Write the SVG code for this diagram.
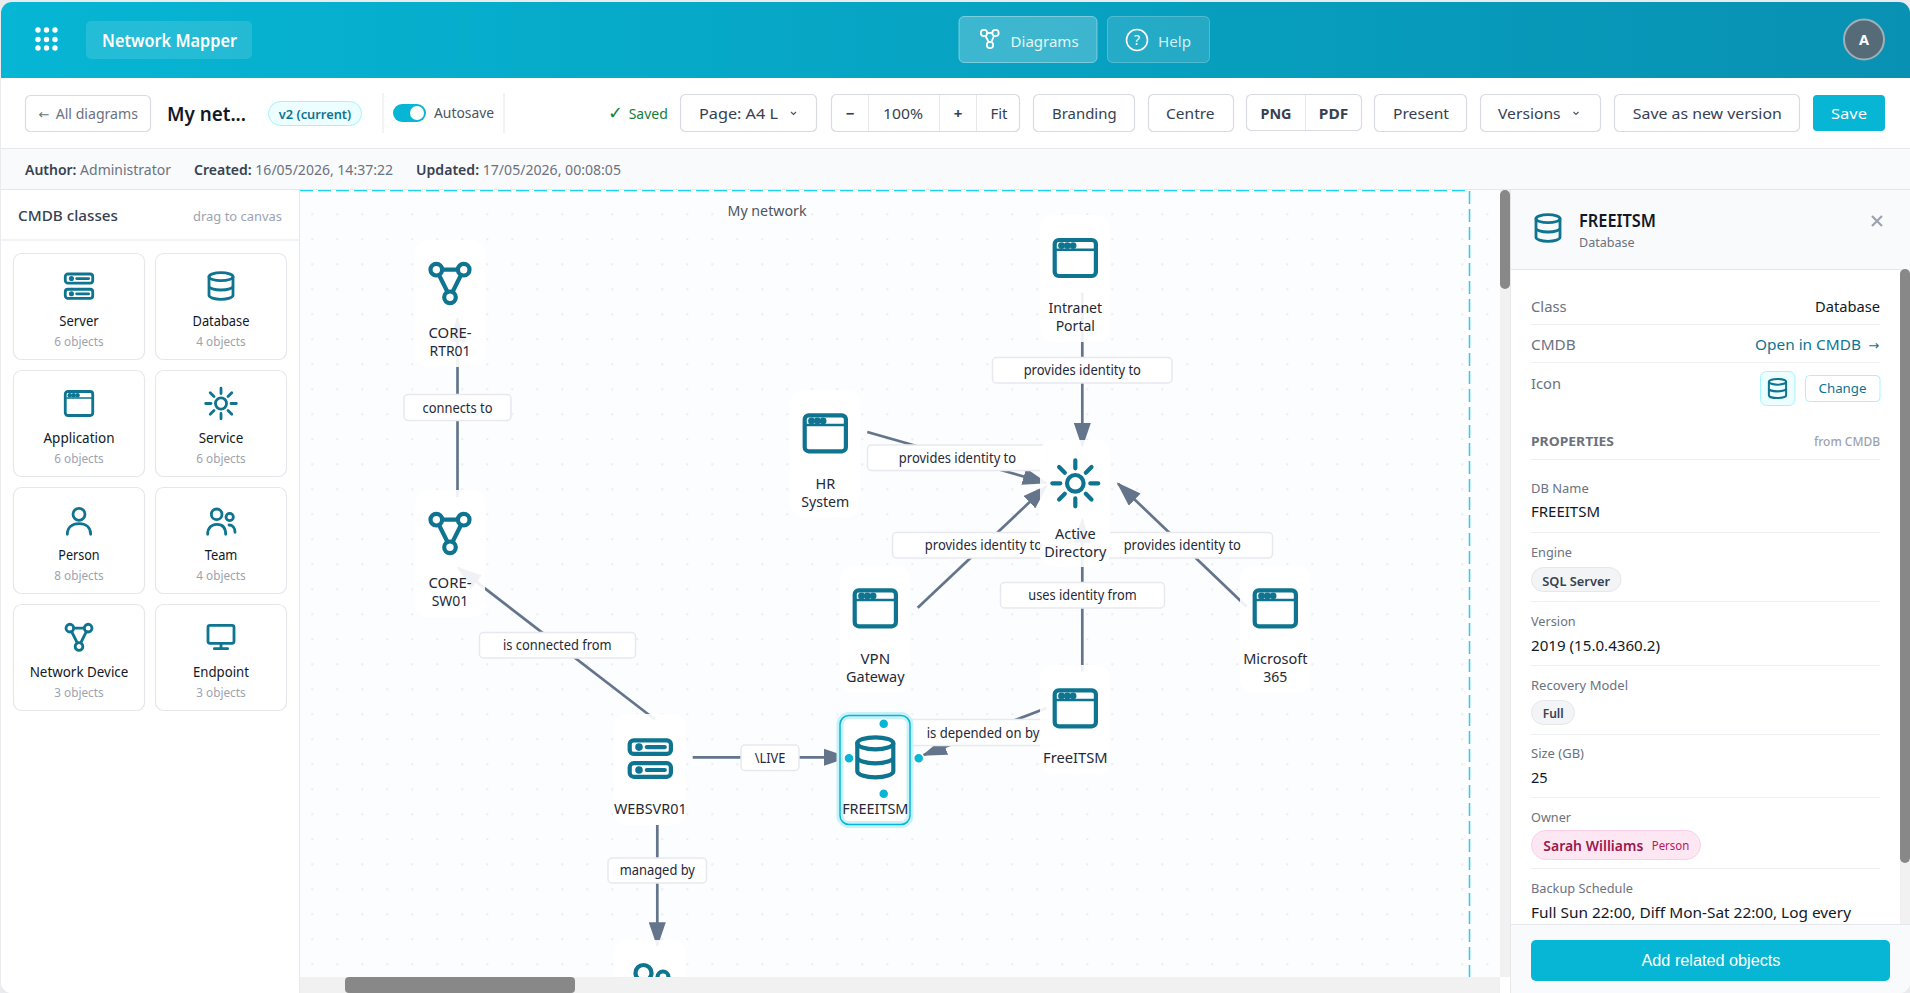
<svg xmlns="http://www.w3.org/2000/svg" width="1910" height="993" viewBox="0 0 1910 993">
<style>
text{font-family:"Noto Sans","Open Sans",sans-serif;fill:#374151;font-size:14px}
.m{text-anchor:middle}.e{text-anchor:end}
.btn{fill:#fff;stroke:#d9dbe3;stroke-width:1.2}
.bt{font-size:15px;text-anchor:middle;fill:#374151}
.meta{font-size:14px;fill:#6b7280}.metab{font-size:14px;font-weight:600;fill:#374151}
.card{fill:#fff;stroke:#e5e7eb;stroke-width:1.2}
.cl{font-size:13.5px;fill:#111827;text-anchor:middle}
.cs{font-size:12.5px;fill:#9ca3af;text-anchor:middle}
.ic{fill:none;stroke:#0e7490;stroke-width:4.2;stroke-linecap:round;stroke-linejoin:round}
.nb{fill:#fff;fill-opacity:.9}
.nl{font-size:14.5px;fill:#1f2937;text-anchor:middle}
.edge{stroke:#64748b;stroke-width:2.7;fill:none;marker-end:url(#ah)}
.lb{fill:#fff;stroke:#e8e9ef;stroke-width:1.5}
.lt{font-size:13.5px;fill:#1f2937;text-anchor:middle}
.pk{font-size:13px;fill:#6b7280}.pv{font-size:15px;fill:#111827}
.dv{stroke:#eef0f3;stroke-width:1.2}
.pill{fill:#f3f4f6;stroke:#e5e7eb}
.pt{font-size:13px;font-weight:600;fill:#374151}
.anch{fill:#06b6d4;stroke:#fff;stroke-width:1.5}
.ar{font-family:"DejaVu Sans",sans-serif;font-size:13px}
</style>
<defs>
<linearGradient id="hg" x1="0" y1="0" x2="1" y2="0"><stop offset="0" stop-color="#06b6d4"/><stop offset="1" stop-color="#0891b2"/></linearGradient>
<pattern id="grid" width="25" height="25" patternUnits="userSpaceOnUse" x="0.3" y="2.3"><path d="M12 11V13M11 12H13" stroke="#e4e6ec" stroke-width="1"/></pattern>
<marker id="ah" markerUnits="userSpaceOnUse" markerWidth="25" markerHeight="17" viewBox="0 0 25 17" refX="23" refY="8.5" orient="auto"><polygon points="0,0 25,8.5 0,17" fill="#64748b"/></marker>
<clipPath id="cv"><rect x="300" y="190" width="1200" height="787"/></clipPath>
<clipPath id="app"><rect x="1" y="2" width="1909" height="991" rx="11"/></clipPath>
<symbol id="i-app" viewBox="0 0 48 48" overflow="visible"><rect class="ic" x="3.4" y="6" width="41.2" height="36" rx="4"/><path class="ic" style="stroke-width:2.4" d="M3.4 15.7H44.6"/><g fill="#0e7490"><circle cx="10.2" cy="11.6" r="3.4"/><circle cx="16" cy="11.6" r="3.4"/><circle cx="21.8" cy="11.6" r="3.4"/></g></symbol>
<symbol id="i-net" viewBox="0 0 48 48" overflow="visible"><circle class="ic" cx="10.3" cy="10.7" r="5.8"/><circle class="ic" cx="37.7" cy="10.7" r="5.8"/><circle class="ic" cx="24" cy="38.3" r="5.8"/><path class="ic" d="M16.3 10.7H31.7M13 16L21.5 33M35 16L26.5 33"/></symbol>
<symbol id="i-srv" viewBox="0 0 48 48" overflow="visible"><rect class="ic" x="3.4" y="6" width="41.2" height="13.6" rx="4"/><rect class="ic" x="3.4" y="28.900" width="41.2" height="13.6" rx="4"/><circle cx="12.7" cy="12.8" r="3.8" fill="#0e7490"/><circle cx="12.7" cy="35.7" r="3.8" fill="#0e7490"/><path class="ic" d="M20.5 12.8H38.5M20.5 35.7H38.5"/></symbol>
<symbol id="i-db" viewBox="0 0 48 48" overflow="visible"><ellipse class="ic" cx="24" cy="10" rx="18" ry="6"/><path class="ic" d="M6 10V38c0 3.3 8 6 18 6s18-2.7 18-6V10M6 24c0 3.3 8 6 18 6s18-2.7 18-6"/></symbol>
<symbol id="i-sun" viewBox="0 0 48 48" overflow="visible"><circle class="ic" cx="24" cy="24" r="8.3"/><path class="ic" d="M24 1V9M24 39V47M1 24H9M39 24H47M7.8 7.8L13.5 13.5M34.5 34.5L40.2 40.2M40.2 7.8L34.5 13.5M13.500 34.5L7.8 40.2"/></symbol>
<symbol id="i-per" viewBox="0 0 48 48" overflow="visible"><circle class="ic" cx="24" cy="14" r="9"/><path class="ic" d="M6.5 44C6.5 33 14 28 24 28S41.5 33 41.5 44"/></symbol>
<symbol id="i-team" viewBox="0 0 48 48" overflow="visible"><circle class="ic" cx="17.5" cy="14" r="8"/><circle class="ic" cx="37" cy="18" r="5.5"/><path class="ic" d="M4 44C4 34 10 29 18 29S31 34 31 44M36 30C41 30 45 34 45 41"/></symbol>
<symbol id="i-mon" viewBox="0 0 48 48" overflow="visible"><rect class="ic" x="4.5" y="6.5" width="39" height="27" rx="3"/><path class="ic" d="M24 33.5V41M14 41.5H34"/></symbol>
</defs>
<rect width="1910" height="993" fill="#e9ebef"/>
<g clip-path="url(#app)">
<rect width="1910" height="993" fill="#fff"/>
<g id="topbar">
<rect y="0" width="1910" height="78" fill="url(#hg)"/>
<g fill="#fff"><circle cx="38" cy="30" r="2.7"/><circle cx="46.500" cy="30" r="2.7"/><circle cx="55" cy="30" r="2.7"/><circle cx="38" cy="39.500" r="2.7"/><circle cx="46.500" cy="39.500" r="2.7"/><circle cx="55" cy="39.500" r="2.7"/><circle cx="38" cy="48" r="2.7"/><circle cx="46.500" cy="48" r="2.7"/><circle cx="55" cy="48" r="2.7"/></g>
<rect x="86" y="21" width="166" height="38" rx="5" fill="#fff" fill-opacity=".12"/>
<text x="169.500" y="47" class="m" textLength="135" lengthAdjust="spacingAndGlyphs" style="font-size:17px;font-weight:600;fill:#fff">Network Mapper</text>
<rect x="959" y="16.500" width="138" height="46" rx="5" fill="#fff" fill-opacity=".22" stroke="#fff" stroke-opacity=".4"/>
<g fill="none" stroke="#fff" stroke-width="1.8"><circle cx="984" cy="33" r="3.2"/><circle cx="995.500" cy="33" r="3.2"/><circle cx="990" cy="45" r="3.2"/><path d="M987 33H992.500M985.500 36L988.700 42M994 36L991.300 42"/></g>
<text x="1044.600" y="47" class="m" textLength="68" lengthAdjust="spacingAndGlyphs" style="font-size:15px;fill:#e6f8fb">Diagrams</text>
<rect x="1107.500" y="16.500" width="102" height="46" rx="5" fill="#fff" fill-opacity=".12" stroke="#fff" stroke-opacity=".25"/>
<circle cx="1137" cy="40" r="10.500" fill="none" stroke="#fff" stroke-width="1.6"/>
<text x="1137" y="45" class="m" style="font-size:14px;fill:#fff">?</text>
<text x="1174.500" y="47" class="m" textLength="33" lengthAdjust="spacingAndGlyphs" style="font-size:15px;fill:#cfeff5">Help</text>
<circle cx="1864" cy="39.500" r="20" fill="#566b78" stroke="#9fb0b8" stroke-width="2"/>
<text x="1864" y="45" class="m" style="font-size:14.500px;font-weight:700;fill:#fff">A</text>
</g>
<g id="toolbar">
<rect x="25.500" y="95.500" width="125" height="36" rx="5" class="btn"/>
<text y="119" style="font-size:14px;fill:#6b7280"><tspan x="38.500" class="ar">←</tspan><tspan x="52" textLength="86" lengthAdjust="spacingAndGlyphs"> All diagrams</tspan></text>
<text x="167" y="121" textLength="79" lengthAdjust="spacingAndGlyphs" style="font-size:19px;font-weight:600;fill:#111827">My net...</text>
<rect x="268.500" y="101.500" width="93" height="24" rx="12" fill="#ecfeff" stroke="#a5f3fc"/>
<text x="315" y="118.500" class="m" textLength="72.500" lengthAdjust="spacingAndGlyphs" style="font-size:13px;font-weight:600;fill:#0e7490">v2 (current)</text>
<path d="M383 93V133M504 93V133" stroke="#e5e7eb"/>
<rect x="393" y="104" width="33" height="18" rx="9" fill="#06b6d4"/><circle cx="417" cy="113" r="7" fill="#fff"/>
<text x="434" y="118" textLength="60" lengthAdjust="spacingAndGlyphs" style="font-size:14px;fill:#4b5563">Autosave</text>
<text y="119" style="font-size:14px;fill:#15803d"><tspan x="608" style="font-size:18px">✓</tspan><tspan x="625"> Saved</tspan></text>
<rect x="680.500" y="94.500" width="136" height="37" rx="5" class="btn"/>
<text x="738.500" y="119" class="bt" textLength="79" lengthAdjust="spacingAndGlyphs">Page: A4 L</text>
<path d="M791 112l2.500 2.500l2.500-2.500" fill="none" stroke="#4b5563" stroke-width="1.2"/>
<rect x="831.500" y="94.500" width="188" height="37" rx="5" class="btn"/>
<path d="M868.500 95V131M939.500 95V131M976.500 95V131" stroke="#e5e7eb"/>
<text x="850" y="119" class="bt" style="font-weight:700">−</text>
<text x="903" y="119" class="bt" textLength="40" lengthAdjust="spacingAndGlyphs">100%</text>
<text x="958" y="119" class="bt" style="font-weight:700">+</text>
<text x="999" y="119" class="bt">Fit</text>
<rect x="1033.500" y="94.500" width="101" height="37" rx="5" class="btn"/>
<text x="1084.300" y="119" class="bt" textLength="64.500" lengthAdjust="spacingAndGlyphs">Branding</text>
<rect x="1148.500" y="94.500" width="85" height="37" rx="5" class="btn"/>
<text x="1190.300" y="119" class="bt" textLength="48.500" lengthAdjust="spacingAndGlyphs">Centre</text>
<rect x="1246.500" y="94.500" width="115" height="36" rx="5" class="btn"/>
<path d="M1305.500 95V130" stroke="#e5e7eb"/>
<text x="1276" y="118.500" class="m" textLength="31" lengthAdjust="spacingAndGlyphs" style="font-size:14px;font-weight:700;fill:#374151">PNG</text>
<text x="1333.500" y="118.500" class="m" textLength="29.500" lengthAdjust="spacingAndGlyphs" style="font-size:14px;font-weight:700;fill:#374151">PDF</text>
<rect x="1374.500" y="94.500" width="92" height="37" rx="5" class="btn"/>
<text x="1421" y="119" class="bt" textLength="56" lengthAdjust="spacingAndGlyphs">Present</text>
<rect x="1480.500" y="94.500" width="120" height="37" rx="5" class="btn"/>
<text x="1529.300" y="119" class="bt" textLength="62.500" lengthAdjust="spacingAndGlyphs">Versions</text>
<path d="M1573.500 112l2.500 2.500l2.500-2.500" fill="none" stroke="#4b5563" stroke-width="1.2"/>
<rect x="1614.500" y="94.500" width="185" height="37" rx="5" class="btn"/>
<text x="1707.300" y="119" class="bt" textLength="149" lengthAdjust="spacingAndGlyphs">Save as new version</text>
<rect x="1813" y="95" width="72" height="36" rx="4" fill="#06b6d4"/>
<text x="1849" y="119" class="bt" textLength="36" lengthAdjust="spacingAndGlyphs" style="fill:#fff">Save</text>
</g>
<g id="metabar">
<rect y="148" width="1910" height="41" fill="#f9fafb"/>
<path d="M0 148.500H1910M0 189.500H1910" stroke="#e5e7eb"/>
<text x="25" y="175" textLength="146" lengthAdjust="spacingAndGlyphs"><tspan class="metab">Author:</tspan><tspan class="meta"> Administrator</tspan></text>
<text x="194" y="175" textLength="199" lengthAdjust="spacingAndGlyphs"><tspan class="metab">Created:</tspan><tspan class="meta"> 16/05/2026, 14:37:22</tspan></text>
<text x="416" y="175" textLength="205" lengthAdjust="spacingAndGlyphs"><tspan class="metab">Updated:</tspan><tspan class="meta"> 17/05/2026, 00:08:05</tspan></text>
</g>
<g id="sidebar">
<rect x="1" y="190" width="299" height="803" fill="#fff"/>
<path d="M299.500 190V993" stroke="#e5e7eb"/>
<text x="18" y="221" textLength="100" lengthAdjust="spacingAndGlyphs" style="font-size:15px;font-weight:500;fill:#374151">CMDB classes</text>
<text x="193" y="221" textLength="89" lengthAdjust="spacingAndGlyphs" style="font-size:12.500px;fill:#9ca3af">drag to canvas</text>
<path d="M1 240H299" stroke="#e5e7eb"/>
<g id="card-server"><rect x="13.500" y="253.500" width="131" height="106" rx="8" class="card"/><use href="#i-srv" x="63" y="270" width="32" height="32"/><text x="79" y="326" class="cl" textLength="39.300" lengthAdjust="spacingAndGlyphs">Server</text><text x="79" y="346" class="cs" textLength="49.300" lengthAdjust="spacingAndGlyphs">6 objects</text></g>
<g id="card-database"><rect x="155.500" y="253.500" width="131" height="106" rx="8" class="card"/><use href="#i-db" x="205" y="270" width="32" height="32"/><text x="221" y="326" class="cl" textLength="57" lengthAdjust="spacingAndGlyphs">Database</text><text x="221" y="346" class="cs" textLength="49.300" lengthAdjust="spacingAndGlyphs">4 objects</text></g>
<g id="card-application"><rect x="13.500" y="370.500" width="131" height="106" rx="8" class="card"/><use href="#i-app" x="63" y="387.500" width="32" height="32"/><text x="79" y="443" class="cl" textLength="71" lengthAdjust="spacingAndGlyphs">Application</text><text x="79" y="463" class="cs" textLength="49.300" lengthAdjust="spacingAndGlyphs">6 objects</text></g>
<g id="card-service"><rect x="155.500" y="370.500" width="131" height="106" rx="8" class="card"/><use href="#i-sun" x="205" y="387.500" width="32" height="32"/><text x="221" y="443" class="cl" textLength="44.700" lengthAdjust="spacingAndGlyphs">Service</text><text x="221" y="463" class="cs" textLength="49.300" lengthAdjust="spacingAndGlyphs">6 objects</text></g>
<g id="card-person"><rect x="13.500" y="487.500" width="131" height="106" rx="8" class="card"/><use href="#i-per" x="63" y="505" width="32" height="32"/><text x="79" y="560" class="cl" textLength="41.300" lengthAdjust="spacingAndGlyphs">Person</text><text x="79" y="580" class="cs" textLength="49.300" lengthAdjust="spacingAndGlyphs">8 objects</text></g>
<g id="card-team"><rect x="155.500" y="487.500" width="131" height="106" rx="8" class="card"/><use href="#i-team" x="205" y="505" width="32" height="32"/><text x="221" y="560" class="cl" textLength="32.700" lengthAdjust="spacingAndGlyphs">Team</text><text x="221" y="580" class="cs" textLength="49.300" lengthAdjust="spacingAndGlyphs">4 objects</text></g>
<g id="card-network"><rect x="13.500" y="604.500" width="131" height="106" rx="8" class="card"/><use href="#i-net" x="63" y="621" width="32" height="32"/><text x="79" y="677" class="cl" textLength="98.700" lengthAdjust="spacingAndGlyphs">Network Device</text><text x="79" y="697" class="cs" textLength="49.300" lengthAdjust="spacingAndGlyphs">3 objects</text></g>
<g id="card-endpoint"><rect x="155.500" y="604.500" width="131" height="106" rx="8" class="card"/><use href="#i-mon" x="205" y="621" width="32" height="32"/><text x="221" y="677" class="cl" textLength="56" lengthAdjust="spacingAndGlyphs">Endpoint</text><text x="221" y="697" class="cs" textLength="49.300" lengthAdjust="spacingAndGlyphs">3 objects</text></g>
</g>
<g id="canvas" clip-path="url(#cv)">
<rect x="300" y="190" width="1200" height="787" fill="#fcfdfe"/>
<rect x="300" y="190" width="1200" height="787" fill="url(#grid)"/>
<path d="M300 190.500H1469.500V977" fill="none" stroke="#22d3ee" stroke-width="1.5" stroke-dasharray="13 5"/>
<text x="767" y="216" class="m" textLength="79" lengthAdjust="spacingAndGlyphs" style="font-size:14px;fill:#4b5563">My network</text>
<g id="connectors">
<line class="edge" x1="457.500" y1="497" x2="457.500" y2="318.700"/>
<line class="edge" x1="655" y1="719.500" x2="458.300" y2="567.900"/>
<line class="edge" x1="1082.300" y1="292.700" x2="1082.300" y2="446"/>
<line class="edge" x1="867.300" y1="432" x2="1045.800" y2="482.800"/>
<line class="edge" x1="917.700" y1="607.700" x2="1046.200" y2="486.400"/>
<line class="edge" x1="1246.700" y1="606.700" x2="1118.100" y2="483.700"/>
<line class="edge" x1="1082.300" y1="671.700" x2="1082.300" y2="519.700"/>
<line class="edge" x1="1046.700" y1="708" x2="923.600" y2="755"/>
<line class="edge" x1="692.700" y1="757.300" x2="847" y2="757.300"/>
<line class="edge" x1="657.300" y1="825" x2="657.300" y2="945.300"/>
<g><rect class="lb" x="404" y="394.500" width="107" height="26" rx="4"/><text class="lt" x="457.500" y="412.500" textLength="70" lengthAdjust="spacingAndGlyphs">connects to</text></g>
<g><rect class="lb" x="479.500" y="632.500" width="156" height="25.500" rx="4"/><text class="lt" x="557.300" y="650" textLength="108.700" lengthAdjust="spacingAndGlyphs">is connected from</text></g>
<g><rect class="lb" x="992.500" y="357.500" width="179.500" height="25.500" rx="4"/><text class="lt" x="1082.300" y="375" textLength="117.300" lengthAdjust="spacingAndGlyphs">provides identity to</text></g>
<g><rect class="lb" x="867.500" y="445" width="180" height="25.500" rx="4"/><text class="lt" x="957.500" y="462.500" textLength="117.300" lengthAdjust="spacingAndGlyphs">provides identity to</text></g>
<g><rect class="lb" x="892.500" y="532.500" width="180" height="25.500" rx="4"/><text class="lt" x="983.500" y="550" textLength="117.300" lengthAdjust="spacingAndGlyphs">provides identity to</text></g>
<g><rect class="lb" x="1092" y="532.500" width="180.500" height="25.500" rx="4"/><text class="lt" x="1182.300" y="550" textLength="117.300" lengthAdjust="spacingAndGlyphs">provides identity to</text></g>
<g><rect class="lb" x="1000.500" y="582.500" width="164" height="25.500" rx="4"/><text class="lt" x="1082.500" y="600" textLength="108.300" lengthAdjust="spacingAndGlyphs">uses identity from</text></g>
<g><rect class="lb" x="905" y="719.500" width="155" height="26" rx="4"/><text class="lt" x="983" y="738" textLength="112.700" lengthAdjust="spacingAndGlyphs">is depended on by</text></g>
<g><rect class="lb" x="741" y="745" width="58" height="25.500" rx="4"/><text class="lt" x="770" y="762.500" textLength="30.700" lengthAdjust="spacingAndGlyphs">\LIVE</text></g>
<g><rect class="lb" x="608" y="858" width="98.500" height="25" rx="4"/><text class="lt" x="657.300" y="875" textLength="75.300" lengthAdjust="spacingAndGlyphs">managed by</text></g>
</g>
<g id="node-core-rtr01"><rect class="nb" x="415" y="240" width="70" height="127" rx="13"/><use href="#i-net" x="426" y="259" width="48" height="48"/><text class="nl" x="450" y="338" textLength="43" lengthAdjust="spacingAndGlyphs">CORE-</text><text class="nl" x="450" y="356" textLength="41" lengthAdjust="spacingAndGlyphs">RTR01</text></g>
<g id="node-core-sw01"><rect class="nb" x="415" y="490" width="70" height="127" rx="13"/><use href="#i-net" x="426" y="509" width="48" height="48"/><text class="nl" x="450" y="588" textLength="43" lengthAdjust="spacingAndGlyphs">CORE-</text><text class="nl" x="450" y="606" textLength="36.700" lengthAdjust="spacingAndGlyphs">SW01</text></g>
<g id="node-intranet"><rect class="nb" x="1040" y="215" width="70" height="127" rx="13"/><use href="#i-app" x="1051.300" y="234" width="48" height="48"/><text class="nl" x="1075.300" y="313" textLength="53.700" lengthAdjust="spacingAndGlyphs">Intranet</text><text class="nl" x="1075.300" y="331" textLength="39.300" lengthAdjust="spacingAndGlyphs">Portal</text></g>
<g id="node-hr"><rect class="nb" x="790" y="390" width="70" height="127" rx="13"/><use href="#i-app" x="801.300" y="409.300" width="48" height="48"/><text class="nl" x="825.300" y="488.500" textLength="19.700" lengthAdjust="spacingAndGlyphs">HR</text><text class="nl" x="825.300" y="506.500" textLength="48" lengthAdjust="spacingAndGlyphs">System</text></g>
<g id="node-ad"><rect class="nb" x="1040" y="440" width="70" height="127" rx="13"/><use href="#i-sun" x="1051.300" y="459.300" width="48" height="48"/><text class="nl" x="1075.300" y="538.500" textLength="40.700" lengthAdjust="spacingAndGlyphs">Active</text><text class="nl" x="1075.300" y="556.500" textLength="62.300" lengthAdjust="spacingAndGlyphs">Directory</text></g>
<g id="node-vpn"><rect class="nb" x="840" y="565.500" width="70" height="127" rx="13"/><use href="#i-app" x="851.300" y="584.300" width="48" height="48"/><text class="nl" x="875.300" y="663.500" textLength="29.700" lengthAdjust="spacingAndGlyphs">VPN</text><text class="nl" x="875.300" y="681.500" textLength="58.500" lengthAdjust="spacingAndGlyphs">Gateway</text></g>
<g id="node-m365"><rect class="nb" x="1240" y="565.500" width="70" height="127" rx="13"/><use href="#i-app" x="1251.300" y="584.300" width="48" height="48"/><text class="nl" x="1275.300" y="663.500" textLength="64.300" lengthAdjust="spacingAndGlyphs">Microsoft</text><text class="nl" x="1275.300" y="681.500" textLength="24" lengthAdjust="spacingAndGlyphs">365</text></g>
<g id="node-freeitsm-app"><rect class="nb" x="1040" y="665" width="70" height="110" rx="13"/><use href="#i-app" x="1051.300" y="684.300" width="48" height="48"/><text class="nl" x="1075.300" y="763" textLength="64.500" lengthAdjust="spacingAndGlyphs">FreeITSM</text></g>
<g id="node-websvr01"><rect class="nb" x="614" y="714" width="72" height="111" rx="13"/><use href="#i-srv" x="626.300" y="734.300" width="48" height="48"/><text class="nl" x="650.300" y="813.500" textLength="72.700" lengthAdjust="spacingAndGlyphs">WEBSVR01</text></g>
<g id="node-team"><rect class="nb" x="614" y="940" width="72" height="60" rx="13"/><use href="#i-team" x="626" y="959" width="48" height="48"/></g>
<g id="node-freeitsm-db"><rect x="840" y="715.500" width="70" height="109" rx="9" fill="#fff" fill-opacity=".96" stroke="#c8f1f8" stroke-width="7"/><rect x="840" y="715.500" width="70" height="109" rx="9" fill="none" stroke="#06b6d4" stroke-width="1.5"/><use href="#i-db" x="851.300" y="733.300" width="48" height="48"/><text class="nl" x="875.300" y="813.500" textLength="66.300" lengthAdjust="spacingAndGlyphs">FREEITSM</text>
<circle class="anch" cx="883.700" cy="723.700" r="5"/><circle class="anch" cx="883.700" cy="793.700" r="5"/><circle class="anch" cx="849" cy="758.300" r="5"/><circle class="anch" cx="918.700" cy="758.300" r="5"/></g>
</g>
<g id="scrollbars">
<rect x="300" y="977" width="1200" height="16" fill="#f1f1f1"/>
<rect x="345" y="977" width="230" height="16" rx="4" fill="#888"/>
<rect x="1500" y="190" width="10" height="787" fill="#f1f1f1"/>
<rect x="1500" y="190" width="10" height="99" rx="5" fill="#888"/>
<rect x="1500" y="977" width="10" height="16" fill="#fff"/>
</g>
<g id="panel">
<rect x="1510.500" y="190" width="400" height="803" fill="#fff" stroke="#e5e7eb"/>
<rect x="1511" y="190" width="399" height="79" fill="#f9fafb"/>
<path d="M1511 269.500H1910" stroke="#e5e7eb"/>
<use href="#i-db" x="1532" y="212" width="32" height="32"/>
<text x="1579" y="227" textLength="77" lengthAdjust="spacingAndGlyphs" style="font-size:17px;font-weight:600;fill:#111827">FREEITSM</text>
<text x="1579" y="247" textLength="55.700" lengthAdjust="spacingAndGlyphs" style="font-size:12.500px;fill:#6b7280">Database</text>
<path d="M1872 216L1882 226M1882 216L1872 226" stroke="#9ca3af" stroke-width="2.200"/>
<rect x="1900" y="269" width="10" height="655" fill="#f1f1f1"/>
<rect x="1900" y="269" width="10" height="594" rx="5" fill="#888"/>
<text x="1531" y="312" textLength="35.700" lengthAdjust="spacingAndGlyphs" style="fill:#6b7280">Class</text><text x="1880" y="312" class="e" textLength="65" lengthAdjust="spacingAndGlyphs" style="fill:#111827">Database</text>
<path class="dv" d="M1531 324.500H1880"/>
<text x="1531" y="350" textLength="44.700" lengthAdjust="spacingAndGlyphs" style="fill:#6b7280">CMDB</text><text y="350" style="fill:#0e7490"><tspan x="1755" textLength="106" lengthAdjust="spacingAndGlyphs">Open in CMDB</tspan><tspan x="1864" class="ar"> →</tspan></text>
<path class="dv" d="M1531 362.500H1880"/>
<text x="1531" y="388.500" textLength="30" lengthAdjust="spacingAndGlyphs" style="fill:#6b7280">Icon</text>
<rect x="1760.500" y="371.500" width="34.500" height="34" rx="6" fill="#ecfeff" stroke="#a5f3fc"/>
<use href="#i-db" x="1766" y="377" width="23" height="23"/>
<rect x="1805.500" y="375.500" width="74.500" height="26" rx="4" fill="#fff" stroke="#a5f3fc"/>
<text x="1842.500" y="393" class="m" textLength="48" lengthAdjust="spacingAndGlyphs" style="font-size:13px;fill:#0e7490">Change</text>
<text x="1531" y="445.500" textLength="83" lengthAdjust="spacingAndGlyphs" style="font-size:12.500px;font-weight:700;fill:#6b7280">PROPERTIES</text>
<text x="1880" y="445.500" class="e" textLength="66" lengthAdjust="spacingAndGlyphs" style="font-size:12px;font-weight:500;fill:#9ca3af">from CMDB</text>
<path class="dv" d="M1531 459.500H1880"/>
<text class="pk" x="1531" y="492.500" textLength="57.700" lengthAdjust="spacingAndGlyphs">DB Name</text><text class="pv" x="1531" y="517" textLength="69" lengthAdjust="spacingAndGlyphs">FREEITSM</text>
<path class="dv" d="M1531 532.500H1880"/>
<text class="pk" x="1531" y="557" textLength="41" lengthAdjust="spacingAndGlyphs">Engine</text>
<rect class="pill" x="1531.500" y="567.500" width="89.500" height="24" rx="12"/><text class="pt" x="1542.300" y="585.500" textLength="67.700" lengthAdjust="spacingAndGlyphs">SQL Server</text>
<path class="dv" d="M1531 601.500H1880"/>
<text class="pk" x="1531" y="626" textLength="44.700" lengthAdjust="spacingAndGlyphs">Version</text><text class="pv" x="1531" y="650.500" textLength="129" lengthAdjust="spacingAndGlyphs">2019 (15.0.4360.2)</text>
<path class="dv" d="M1531 665.500H1880"/>
<text class="pk" x="1531" y="690" textLength="97" lengthAdjust="spacingAndGlyphs">Recovery Model</text>
<rect class="pill" x="1531.500" y="700.500" width="43" height="24" rx="12"/><text class="pt" x="1542.700" y="717.500" textLength="21" lengthAdjust="spacingAndGlyphs">Full</text>
<path class="dv" d="M1531 734.500H1880"/>
<text class="pk" x="1531" y="758" textLength="53" lengthAdjust="spacingAndGlyphs">Size (GB)</text><text class="pv" x="1531" y="782.500" textLength="16.700" lengthAdjust="spacingAndGlyphs">25</text>
<path class="dv" d="M1531 797.500H1880"/>
<text class="pk" x="1531" y="822" textLength="40" lengthAdjust="spacingAndGlyphs">Owner</text>
<rect x="1531.500" y="830.500" width="169" height="29" rx="14.500" fill="#fce7f3" stroke="#fbcfe8"/>
<text x="1543.300" y="850.500" textLength="100" lengthAdjust="spacingAndGlyphs" style="font-size:14.500px;font-weight:600;fill:#9d174d">Sarah Williams</text>
<text x="1651.700" y="850" textLength="37.700" lengthAdjust="spacingAndGlyphs" style="font-size:12px;fill:#be185d">Person</text>
<path class="dv" d="M1531 868.500H1880"/>
<text class="pk" x="1531" y="893" textLength="102" lengthAdjust="spacingAndGlyphs">Backup Schedule</text>
<text class="pv" x="1531" y="917.500" textLength="320" lengthAdjust="spacingAndGlyphs">Full Sun 22:00, Diff Mon-Sat 22:00, Log every</text>
<rect x="1511" y="924" width="399" height="69" fill="#f9fafb"/>
<path d="M1511 924.500H1910" stroke="#e5e7eb"/>
<rect x="1531" y="940" width="359" height="41" rx="5" fill="#06b6d4"/>
<text x="1711" y="966" class="m" textLength="139" lengthAdjust="spacingAndGlyphs" style="font-family:'Liberation Sans',Arial,sans-serif;font-size:16px;fill:#fff">Add related objects</text>
</g>
</g>
</svg>
